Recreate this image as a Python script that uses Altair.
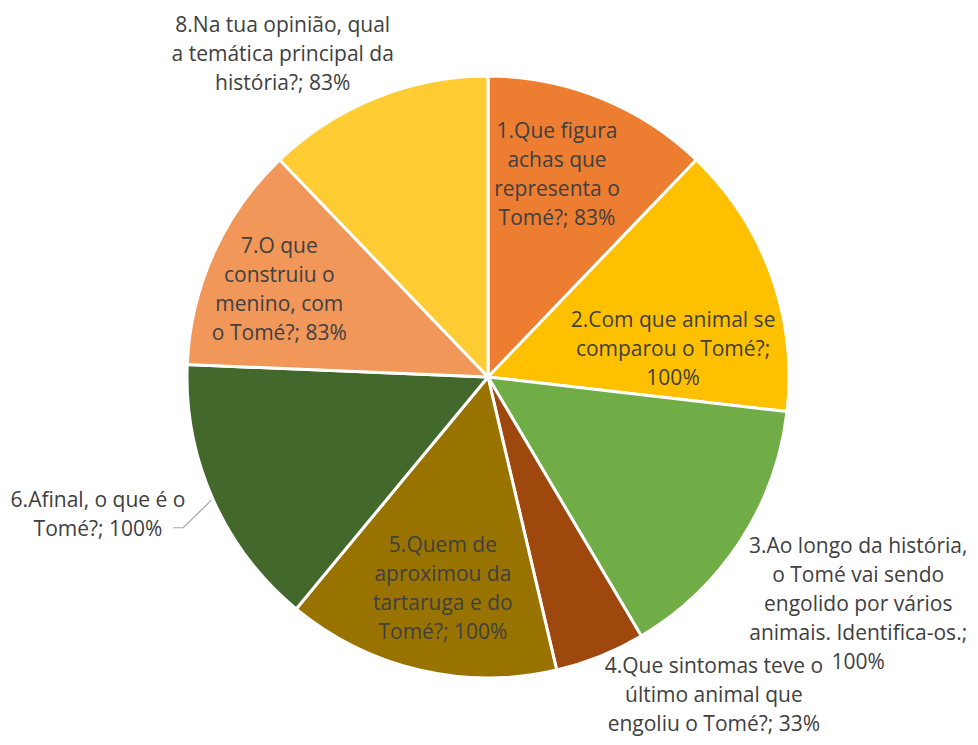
import math
import altair as alt
import pandas as pd

# ---- data ----
categories = [
    "1.Que figura achas que representa o Tomé?",
    "2.Com que animal se comparou o Tomé?",
    "3.Ao longo da história, o Tomé vai sendo engolido por vários animais. Identifica-os.",
    "4.Que sintomas teve o último animal que engoliu o Tomé?",
    "5.Quem de aproximou da tartaruga e do Tomé?",
    "6.Afinal, o que é o Tomé?",
    "7.O que construiu o menino, com o Tomé?",
    "8.Na tua opinião, qual a temática principal da história?",
]
values = [83, 100, 100, 33, 100, 100, 83, 83]
label_lines = [
    ["1.Que figura", "achas que", "representa o", "Tomé?; 83%"],
    ["2.Com que animal se", "comparou o Tomé?;", "100%"],
    ["3.Ao longo da história,", "o Tomé vai sendo", "engolido por vários", "animais. Identifica-os.;", "100%"],
    ["4.Que sintomas teve o", "último animal que", "engoliu o Tomé?; 33%"],
    ["5.Quem de", "aproximou da", "tartaruga e do", "Tomé?; 100%"],
    ["6.Afinal, o que é o", "Tomé?; 100%"],
    ["7.O que", "construiu o", "menino, com", "o Tomé?; 83%"],
    ["8.Na tua opinião, qual", "a temática principal da", "história?; 83%"],
]
colors = ["#ED7D31", "#FFC000", "#70AD47", "#9E480E", "#997300", "#43682B", "#F1975A", "#FFCD33"]

# ---- layout / style ----
W, H = 962, 729
CX, CY = 480, 369
R = 301
LH = 29
FS = 21
# label placement: (angle offset from slice middle in degrees, radius in px)
label_offset_deg = [-3.0, 11.5, -1.4, -13.4, -1.2, 4.4, -1.7, -10.6]
label_radius = [213, 187, 434.6, 390.9, 217, 414, 226, 382]

total = sum(values)
mids = []
acc = 0.0
for v in values:
    mids.append((acc + v / 2) / total * 2 * math.pi)
    acc += v

df = pd.DataFrame({"idx": list(range(len(values))), "cat": categories, "value": values})

lab_x, lab_y = [], []
for m, off, r, lines in zip(mids, label_offset_deg, label_radius, label_lines):
    a = m + math.radians(off)
    lab_x.append(CX + r * math.sin(a))
    # center the whole block of lines on the anchor
    lab_y.append(CY - r * math.cos(a) - (len(lines) - 1) / 2 * LH)
labels = pd.DataFrame({
    "x": lab_x,
    "y": lab_y,
    "text": ["\n".join(l) for l in label_lines],
})

# leader line for slice 6
m6 = mids[5]
p_edge = (CX + (R + 2) * math.sin(m6), CY - (R + 2) * math.cos(m6))
p_elbow = (CX + 340 * math.sin(m6 - math.radians(2.3)), CY - 340 * math.cos(m6 - math.radians(2.3)))
leader = pd.DataFrame({
    "x": [p_elbow[0] - 10, p_elbow[0], p_edge[0]],
    "y": [p_elbow[1], p_elbow[1], p_edge[1]],
    "o": [0, 1, 2],
})

arcs = alt.Chart(df).mark_arc(outerRadius=R, stroke="white", strokeWidth=3).encode(
    theta=alt.Theta("value:Q", stack=True),
    order=alt.Order("idx:Q"),
    color=alt.Color("cat:N", scale=alt.Scale(domain=categories, range=colors), legend=None, sort=None),
    x=alt.value(CX),
    y=alt.value(CY),
)

text = alt.Chart(labels).mark_text(
    align="center", baseline="middle", lineBreak="\n",
    font="Open Sans", fontSize=FS, lineHeight=LH, color="#404040",
).encode(
    x=alt.X("x:Q", scale=None),
    y=alt.Y("y:Q", scale=None),
    text="text:N",
)

line = alt.Chart(leader).mark_line(color="#A6A6A6", strokeWidth=1.2).encode(
    x=alt.X("x:Q", scale=None),
    y=alt.Y("y:Q", scale=None),
    order="o:Q",
)

chart = alt.layer(arcs, line, text).properties(
    width=W, height=H, padding=0, autosize=alt.AutoSizeParams(type="none")
).configure_view(stroke=None)

chart.save("out.html", embed_options={"renderer": "svg", "actions": False})
